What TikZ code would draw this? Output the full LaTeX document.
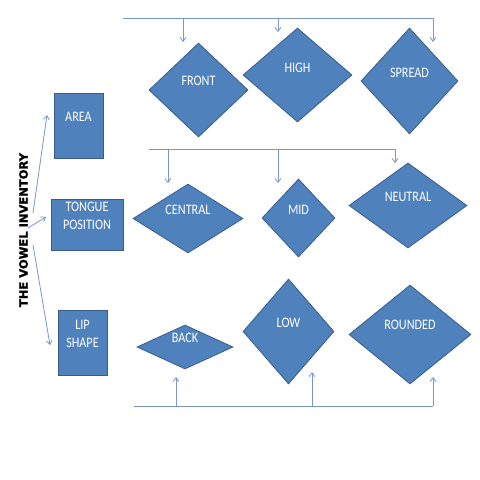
\documentclass[tikz,border=0pt]{standalone}
\usepackage{fontspec}
\setmainfont{Carlito}
\newfontfamily\lblfont{Carlito}[FakeStretch=0.84]
\newfontfamily\ttlfont{DejaVu Sans}[FakeBold=1.2]
\usetikzlibrary{shapes.geometric,arrows.meta}
\definecolor{boxblue}{RGB}{79,129,189}
\definecolor{edgeblue}{RGB}{56,93,138}
\definecolor{lineblue}{RGB}{120,150,200}

\begin{document}
\begin{tikzpicture}[x=1pt,y=-1pt,
    box/.style={draw=edgeblue,fill=boxblue,line width=0.8pt,inner sep=0pt},
    dmd/.style={box,diamond},
    lbl/.style={text=white,font=\lblfont\fontsize{14.5}{18}\selectfont,align=center,inner sep=0pt},
    conn/.style={draw=lineblue,line width=0.8pt},
    arr/.style={conn,-{Straight Barb[length=4pt,width=6pt]}}]
    \useasboundingbox (0,0) rectangle (480,480);
    \node[rotate=90,font=\ttlfont\bfseries\fontsize{11.5}{12}\selectfont] (title) at (23.5,230) {THE VOWEL INVENTORY};
    \node[box,minimum width=49pt,minimum height=65pt,label={[lbl,yshift=8.5pt]center:AREA}] (area) at (78.5,125.5) {};
    \node[box,minimum width=72pt,minimum height=51pt,label={[lbl,yshift=8.5pt]center:TONGUE\\POSITION}] (tongue) at (87,224.5) {};
    \node[box,minimum width=49pt,minimum height=65pt,label={[lbl,yshift=9pt]center:LIP\\SHAPE}] (lip) at (82.5,342.5) {};
    \node[dmd,minimum width=99pt,minimum height=94pt,label={[lbl,yshift=9pt]center:FRONT}] (front) at (198.5,90) {};
    \node[dmd,minimum width=109pt,minimum height=94pt,label={[lbl,yshift=7pt]center:HIGH}] (high) at (297.5,75) {};
    \node[dmd,minimum width=97pt,minimum height=106pt,label={[lbl,yshift=8pt]center:SPREAD}] (spread) at (409.5,81) {};
    \node[dmd,minimum width=110pt,minimum height=69pt,label={[lbl,yshift=8.5pt]center:CENTRAL}] (central) at (188,218.5) {};
    \node[dmd,minimum width=73pt,minimum height=78pt,label={[lbl,yshift=8pt]center:MID}] (mid) at (298.5,218) {};
    \node[dmd,minimum width=118pt,minimum height=85pt,label={[lbl,yshift=8.5pt]center:NEUTRAL}] (neutral) at (408,205.5) {};
    \node[dmd,minimum width=96pt,minimum height=44pt,label={[lbl,yshift=9pt]center:BACK}] (back) at (185,347) {};
    \node[dmd,minimum width=91pt,minimum height=105pt,label={[lbl,yshift=8.5pt]center:LOW}] (low) at (288.5,331.5) {};
    \node[dmd,minimum width=122pt,minimum height=99pt,label={[lbl,yshift=9.5pt]center:ROUNDED}] (rounded) at (410,334.5) {};
    \coordinate (t1) at (33,213);
    \coordinate (t2) at (28,228);
    \coordinate (t3) at (33,245);
    \coordinate (to area) at (47,115);
    \coordinate (to tongue) at (46,217);
    \coordinate (to lip) at (50,345);
    \draw[arr] (t1) -- (to area);
    \draw[arr] (t2) -- (to tongue);
    \draw[arr] (t3) -- (to lip);
    \coordinate (top0) at (123,18.3);
    \coordinate (top1) at (183,18.3);
    \coordinate (top2) at (278,18.3);
    \coordinate (top3) at (433,18.3);
    \coordinate (to front) at (183,42);
    \coordinate (to high) at (278,32);
    \coordinate (to spread) at (433,42);
    \draw[conn] (top0) -- (top3);
    \draw[arr] (top1) -- (to front);
    \draw[arr] (top2) -- (to high);
    \draw[arr] (top3) -- (to spread);
    \coordinate (mid0) at (149,149.3);
    \coordinate (mid1) at (168,149.3);
    \coordinate (mid2) at (278,149.3);
    \coordinate (mid3) at (395,149.3);
    \coordinate (to central) at (168,183);
    \coordinate (to mid) at (278,183);
    \coordinate (to neutral) at (395,163);
    \draw[conn] (mid0) -- (mid3);
    \draw[arr] (mid1) -- (to central);
    \draw[arr] (mid2) -- (to mid);
    \draw[arr] (mid3) -- (to neutral);
    \coordinate (bot0) at (134,406);
    \coordinate (bot1) at (176,406);
    \coordinate (bot2) at (312,406);
    \coordinate (bot3) at (433,406);
    \coordinate (to back) at (176,377);
    \coordinate (to low) at (312,372);
    \coordinate (to rounded) at (433,377);
    \draw[conn] (bot0) -- (bot3);
    \draw[arr] (bot1) -- (to back);
    \draw[arr] (bot2) -- (to low);
    \draw[arr] (bot3) -- (to rounded);
\end{tikzpicture}
\end{document}
